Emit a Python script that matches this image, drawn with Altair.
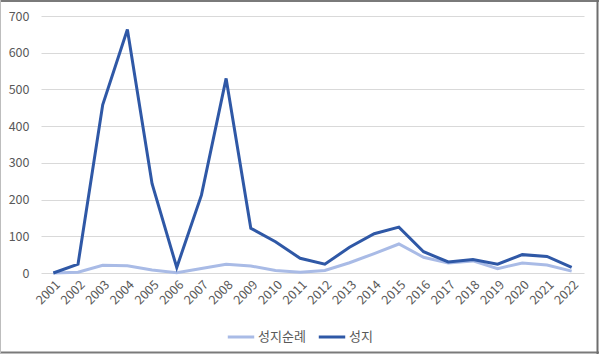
import altair as alt
import pandas as pd

years = [str(y) for y in range(2001, 2023)]
seongji = [0, 24, 458, 663, 243, 15, 212, 530, 122, 85, 40, 24, 70, 107, 125, 58, 30, 37, 24, 50, 45, 15]
sunrye = [0, 2, 21, 20, 8, 1, 12, 24, 19, 7, 2, 7, 28, 53, 79, 43, 27, 33, 12, 27, 22, 5]
series_names = ["성지순례", "성지"]
colors = ["#A9BBE6", "#2F58A6"]

rows = []
for i, y in enumerate(years):
    rows.append({"year": y, "series": series_names[0], "value": sunrye[i], "order": 0})
    rows.append({"year": y, "series": series_names[1], "value": seongji[i], "order": 1})
df = pd.DataFrame(rows)

W, H = 543, 257
PL, PT = 41, 16
FONT = "Noto Sans CJK KR"

lines = alt.Chart(df).mark_line(strokeWidth=3, strokeJoin="miter").encode(
    x=alt.X("year:O", title=None,
            scale=alt.Scale(type="point", padding=0.5),
            axis=alt.Axis(labelAngle=315, labelPadding=5, ticks=False, domain=False,
                          labelColor="#595959", labelFontSize=12.5, labelFont=FONT, grid=False)),
    y=alt.Y("value:Q", title=None,
            scale=alt.Scale(domain=[0, 700], nice=False),
            axis=alt.Axis(values=[0, 100, 200, 300, 400, 500, 600, 700], ticks=False, domain=False,
                          labelColor="#595959", labelFontSize=12.5, labelFont=FONT,
                          labelPadding=12, gridColor="#D9D9D9", gridWidth=1)),
    color=alt.Color("series:N", title=None,
                    scale=alt.Scale(domain=series_names, range=colors),
                    legend=alt.Legend(orient="none", legendX=185, legendY=306, direction="horizontal",
                                      symbolType="stroke", symbolStrokeWidth=3, symbolSize=700,
                                      labelFontSize=13, labelFont=FONT, labelColor="#595959",
                                      columnPadding=6, labelOffset=2)),
    order=alt.Order("order:Q"),
)

one = pd.DataFrame({"a": [0]})
top_b = alt.Chart(one).mark_rule(stroke="#7A7A7A", strokeWidth=2).encode(
    x=alt.value(0 - PL), x2=alt.value(599 - PL), y=alt.value(1 - PT))
bottom_b = alt.Chart(one).mark_rule(stroke="#7A7A7A", strokeWidth=2).encode(
    x=alt.value(0 - PL), x2=alt.value(599 - PL), y=alt.value(352.5 - PT))
right_b = alt.Chart(one).mark_rule(stroke="#6E6E6E", strokeWidth=2).encode(
    x=alt.value(597.5 - PL), y=alt.value(0 - PT), y2=alt.value(354 - PT))
left_b = alt.Chart(one).mark_rule(stroke="#BDBDBD", strokeWidth=1).encode(
    x=alt.value(0.5 - PL), y=alt.value(0 - PT), y2=alt.value(354 - PT))

chart = alt.layer(lines, top_b, bottom_b, right_b, left_b).properties(
    width=W, height=H,
    autosize=alt.AutoSizeParams(type="none"),
    padding={"left": PL, "top": PT, "right": 600 - PL - W, "bottom": 354 - PT - H},
    background="white",
).configure_view(stroke=None)

chart.save("out.html", embed_options={"renderer": "svg", "actions": False})
